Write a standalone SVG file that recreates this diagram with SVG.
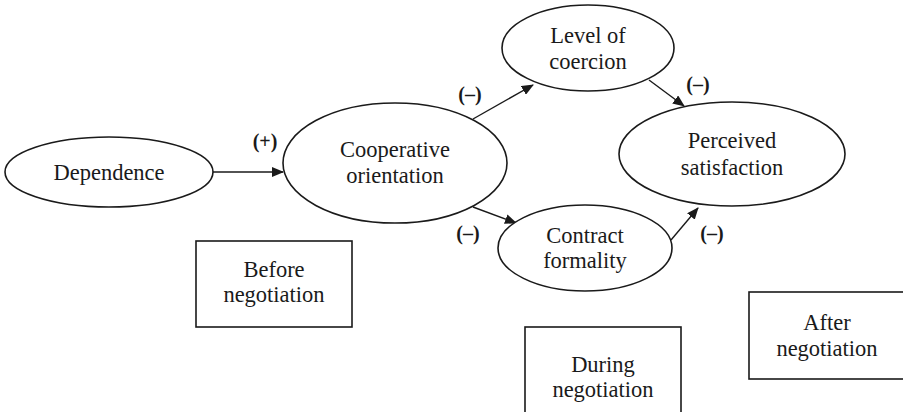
<svg xmlns="http://www.w3.org/2000/svg" width="903" height="412" viewBox="0 0 903 412">
<defs>
<marker id="ah" markerWidth="12" markerHeight="10" refX="11" refY="5" orient="auto" markerUnits="userSpaceOnUse">
<path d="M0,0 L12,5 L0,10 Z" fill="#1a1a1a"/>
</marker>
<style>
.n{fill:#fff;stroke:#1a1a1a;stroke-width:1.6}
.t{font-size:22.5px;fill:#1a1a1a;text-anchor:middle}
.l{font-size:20px;font-weight:bold;fill:#1a1a1a;text-anchor:middle}
.c{stroke:#1a1a1a;stroke-width:1.4;fill:none;marker-end:url(#ah)}
</style>
</defs>
<rect width="903" height="412" fill="#fff"/>
<g font-family="'Liberation Serif', 'Times New Roman', Tinos, 'Noto Serif', 'FreeSerif', 'Nimbus Roman', Times, serif">
<g id="connectors">
<line class="c" x1="213" y1="172" x2="283" y2="172"/>
<line class="c" x1="473" y1="119" x2="533" y2="85"/>
<line class="c" x1="649" y1="80" x2="684" y2="106"/>
<line class="c" x1="473" y1="207" x2="516" y2="223"/>
<line class="c" x1="671" y1="240" x2="698" y2="208"/>
<text class="l" x="265" y="148">(+)</text>
<text class="l" x="470" y="101">(–)</text>
<text class="l" x="698" y="91">(–)</text>
<text class="l" x="468" y="240">(–)</text>
<text class="l" x="712" y="240">(–)</text>
</g>
<g id="dependence">
<ellipse class="n" cx="109" cy="172" rx="104" ry="35"/>
<text class="t" x="109" y="180">Dependence</text>
</g>
<g id="cooperative">
<ellipse class="n" cx="395" cy="163" rx="112" ry="60"/>
<text class="t" x="395" y="157">Cooperative</text>
<text class="t" x="395" y="183">orientation</text>
</g>
<g id="coercion">
<ellipse class="n" cx="588" cy="48" rx="86" ry="43"/>
<text class="t" x="588" y="43">Level of</text>
<text class="t" x="588" y="69">coercion</text>
</g>
<g id="satisfaction">
<ellipse class="n" cx="732" cy="154" rx="113" ry="52"/>
<text class="t" x="732" y="148">Perceived</text>
<text class="t" x="732" y="175">satisfaction</text>
</g>
<g id="formality">
<ellipse class="n" cx="585" cy="248" rx="87" ry="43"/>
<text class="t" x="585" y="243">Contract</text>
<text class="t" x="585" y="268">formality</text>
</g>
<g id="before">
<rect class="n" x="196" y="241" width="156" height="86"/>
<text class="t" x="274" y="277">Before</text>
<text class="t" x="274" y="302">negotiation</text>
</g>
<g id="during">
<rect class="n" x="525" y="327" width="156" height="90"/>
<text class="t" x="603" y="372">During</text>
<text class="t" x="603" y="397">negotiation</text>
</g>
<g id="after">
<rect class="n" x="749" y="292" width="156" height="87"/>
<text class="t" x="827" y="330">After</text>
<text class="t" x="827" y="356">negotiation</text>
</g>
</g>
</svg>
